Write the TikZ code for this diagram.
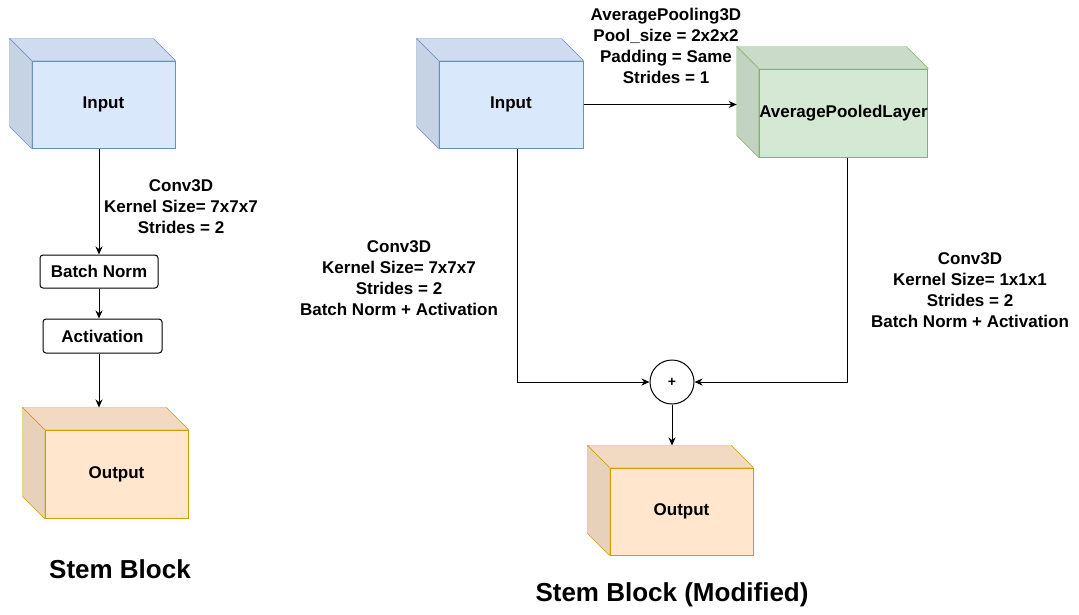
\documentclass[tikz,border=0pt]{standalone}
\usepackage{fontspec}
\setmainfont{Liberation Sans}
\usetikzlibrary{arrows.meta,backgrounds}

\definecolor{blueFill}{HTML}{DAE8FC}
\definecolor{blueLine}{HTML}{6C8EBF}
\definecolor{greenFill}{HTML}{D5E8D4}
\definecolor{greenLine}{HTML}{82B366}
\definecolor{orangeFill}{HTML}{FFE6CC}
\definecolor{orangeLine}{HTML}{D79B00}

% top and left faces behind a front face node
\newcommand{\boxdepth}[3]{%
  \coordinate (#1-bnw) at ([shift={(-22,-22)}]#1.north west);
  \begin{scope}[on background layer]
    \filldraw[draw=#3, fill=#2!95!black] (#1.north west) -- (#1-bnw)
      -- ([shift={(-22,-22)}]#1.north east) -- (#1.north east) -- cycle;
    \filldraw[draw=#3, fill=#2!91!black] (#1.north west) -- (#1-bnw)
      -- ([shift={(-22,-22)}]#1.south west) -- (#1.south west) -- cycle;
  \end{scope}}

\begin{document}
\begin{tikzpicture}[x=1pt,y=-1pt,line width=1pt,
                    >={Stealth[length=8pt,width=7pt,inset=2.5pt]},
                    font=\bfseries\fontsize{17}{21}\selectfont]
  \tikzstyle{cube}=[draw,rectangle,minimum width=143,minimum height=87,inner sep=0pt]
  \tikzstyle{layer}=[draw,rounded corners=3pt,minimum width=118,minimum height=33,inner sep=0pt]
  \tikzstyle{sum}=[draw,circle,minimum size=44,inner sep=0pt,font=\bfseries\fontsize{14}{16}\selectfont]
  \tikzstyle{note}=[align=center,inner sep=0pt]
  \tikzstyle{title}=[inner sep=0pt,font=\bfseries\fontsize{26}{31}\selectfont]

  \useasboundingbox (0,0) rectangle (1079,614);

  % Stem Block
  \node[cube,fill=blueFill,draw=blueLine]                 (inL)  at (103.5,104.5) {Input};
  \node[layer]                                          (bn)   at (99,271.5)    {Batch Norm};
  \node[layer,minimum width=119,minimum height=34]      (act)  at (102.5,336)   {Activation};
  \node[cube,fill=orangeFill,draw=orangeLine,minimum height=88] (outL) at (116.5,474) {Output};
  \boxdepth{inL}{blueFill}{blueLine}
  \boxdepth{outL}{orangeFill}{orangeLine}

  \node[note]  (convL)  at (181,207) {Conv3D\\Kernel Size= 7x7x7\\Strides = 2};
  \node[title] (titleL) at (120,569) {Stem Block};

  \draw[->] (inL.south -| bn) -- (bn);
  \draw[->] (bn) -- (act.north -| bn);
  \draw[->] (act.south -| bn) -- (outL-bnw -| bn);

  % Stem Block (Modified)
  \node[cube,fill=blueFill,draw=blueLine,minimum width=144]       (inR)  at (511,104.5)   {Input};
  \node[cube,fill=greenFill,draw=greenLine,minimum height=88]     (pool) at (843.5,113)   {AveragePooledLayer};
  \node[sum]                                                    (add)  at (672,382)     {+};
  \node[cube,fill=orangeFill,draw=orangeLine]                     (outR) at (681.5,511.5) {Output};
  \boxdepth{inR}{blueFill}{blueLine}
  \boxdepth{pool}{greenFill}{greenLine}
  \boxdepth{outR}{orangeFill}{orangeLine}

  \node[note]  (poolTxt) at (666,46)  {AveragePooling3D\\Pool\_size = 2x2x2\\Padding = Same\\Strides = 1};
  \node[note]  (convR1)  at (399,278) {Conv3D\\Kernel Size= 7x7x7\\Strides = 2\\Batch Norm + Activation};
  \node[note]  (convR2)  at (970,290) {Conv3D\\Kernel Size= 1x1x1\\Strides = 2\\Batch Norm + Activation};
  \node[title] (titleR)  at (672,595) {Stem Block (Modified)};

  \draw[->] (inR.east) -- (inR.east -| pool-bnw);
  \draw[->] ([xshift=6pt]inR.south) |- (add);
  \draw[->] ([xshift=4pt]pool.south) |- (add);
  \draw[->] (add) -- (add |- outR-bnw);
\end{tikzpicture}
\end{document}
